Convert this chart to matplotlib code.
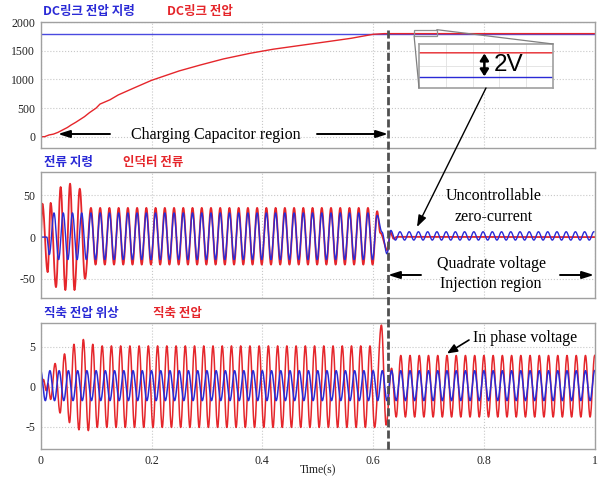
import numpy as np
import matplotlib
matplotlib.use('Agg')
import matplotlib.pyplot as plt
from matplotlib.patches import Rectangle, ConnectionPatch, FancyArrowPatch
from matplotlib.lines import Line2D

# ---------------- data ----------------
FREQ = 60.0
T_SWITCH = 0.626

# panel 1 : DC-link voltage
dc_ref_t = [0.0, 1.0]
dc_ref_v = [1800.0, 1800.0]
dc_t = [0.0, 0.007, 0.015, 0.023, 0.031, 0.040, 0.048, 0.055, 0.063, 0.071, 0.079,
        0.088, 0.1, 0.107, 0.125, 0.14, 0.167, 0.2, 0.25, 0.288, 0.33, 0.378,
        0.42, 0.468, 0.52, 0.56, 0.6, 0.62, 1.0]
dc_v = [0.0, 0.0, 30, 45, 75, 120, 160, 205, 250, 300, 350,
        420, 500, 570, 645, 730, 846, 985, 1150, 1253, 1360, 1458,
        1530, 1595, 1665, 1720, 1790, 1802, 1802]

# panel 2 : current reference (blue) / inductor current (red)
iref_head_t = [0.0, 0.011, 0.0155]
iref_head_v = [0.0, 0.0, -21.0]
iref_first_peak, iref_hi, iref_lo = 0.024, 29.0, -27.0
iref_tail_t = [0.6073, 0.616, 0.625, 0.632, 0.6403]
iref_tail_v = [26.0, 6.0, -20.0, 8.0, -3.6]
iref_post_first_peak, iref_post_hi, iref_post_lo = 0.6485, 6.4, -3.6

iL_head_t = [0.0, 0.003, 0.0126, 0.018, 0.0276, 0.036, 0.0445, 0.053, 0.061, 0.0705, 0.080]
iL_head_v = [0.0, 40.0, -42.0, 41.0, -60.0, 60.0, -63.5, 64.0, -63.5, 58.0, -50.0]
iL_first_peak, iL_hi, iL_lo = 0.0907, 35.0, -33.0
iL_tail_t = [0.6073, 0.613, 0.626, 0.631, 0.637, 0.643, 1.0]
iL_tail_v = [31.0, 5.0, -16.0, 6.0, -2.0, 0.3, 0.0]

# panel 3 : d-axis voltage phase (blue) / d-axis voltage (red)
vph_first_peak, vph_hi, vph_lo = 0.0, 2.0, -1.75

vd_head_t = [0.0, 0.005, 0.010, 0.013, 0.018, 0.026, 0.035, 0.043, 0.052, 0.060,
             0.069, 0.077, 0.086, 0.094, 0.102]
vd_head_v = [-0.2, 0.9, -0.5, 0.4, -1.6, 2.9, -3.3, 4.1, -4.5, 5.3,
             -5.4, 5.9, -5.5, 5.3, -5.1]
vd_first_peak, vd_hi, vd_lo = 0.111, 5.1, -5.1
vd_tail_t = [0.615, 0.6235, 0.6333, 0.6417]
vd_tail_v = [7.7, -4.8, 2.3, -3.8]
vd_post_first_peak, vd_post_hi, vd_post_lo = 0.65, 3.9, -3.8

# ---------------- helpers ----------------
def grid_extrema(first_peak, hi, lo, t_end):
    half = 0.5 / FREQ
    ts, vs = [], []
    k = 0
    while first_peak + k * half <= t_end + 1e-9:
        ts.append(first_peak + k * half)
        vs.append(hi if k % 2 == 0 else lo)
        k += 1
    return ts, vs


def halfcos(te, ve, n=16):
    tt, vv = [], []
    for i in range(len(te) - 1):
        s = np.linspace(0, 1, n, endpoint=False)
        tt.append(te[i] + s * (te[i + 1] - te[i]))
        vv.append((ve[i] + ve[i + 1]) / 2 + (ve[i] - ve[i + 1]) / 2 * np.cos(np.pi * s))
    tt.append([te[-1]])
    vv.append([ve[-1]])
    return np.concatenate(tt), np.concatenate(vv)


def assemble(*parts):
    t, v = [], []
    for pt, pv in parts:
        t += list(pt)
        v += list(pv)
    return halfcos(t, v)

iref = assemble((iref_head_t, iref_head_v),
                grid_extrema(iref_first_peak, iref_hi, iref_lo, 0.600),
                (iref_tail_t, iref_tail_v),
                grid_extrema(iref_post_first_peak, iref_post_hi, iref_post_lo, 1.0))
iL = assemble((iL_head_t, iL_head_v),
              grid_extrema(iL_first_peak, iL_hi, iL_lo, 0.600),
              (iL_tail_t, iL_tail_v))
vph = assemble(grid_extrema(vph_first_peak, vph_hi, vph_lo, 1.0))
vd = assemble((vd_head_t, vd_head_v),
              grid_extrema(vd_first_peak, vd_hi, vd_lo, 0.605),
              (vd_tail_t, vd_tail_v),
              grid_extrema(vd_post_first_peak, vd_post_hi, vd_post_lo, 1.0))

# ---------------- figure ----------------
W, H = 601, 479
plt.rcParams['font.family'] = ['Liberation Serif', 'DejaVu Serif']
plt.rcParams['axes.unicode_minus'] = False
fig = plt.figure(figsize=(W / 100, H / 100), dpi=100)

BLUE = '#2a2ad6'
RED = '#e5262b'
KFONT = ['Noto Sans CJK KR', 'DejaVu Sans']

def fx(px):
    return px / W

def fy(py):
    return 1 - py / H

left, right = 40.7, 594.7

def make_ax(top, bottom):
    ax = fig.add_axes([fx(left), fy(bottom), fx(right - left), (bottom - top) / H])
    for s in ax.spines.values():
        s.set_color('#a0a0a0')
        s.set_linewidth(1.0)
    ax.grid(True, color='#c8c8c8', linestyle=':', linewidth=0.8)
    ax.set_axisbelow(True)
    ax.tick_params(length=0, pad=4, labelsize=8.5, colors='#222222')
    ax.set_xlim(0, 1)
    ax.set_xticks([0, 0.2, 0.4, 0.6, 0.8, 1.0])
    return ax

ax1 = make_ax(22.3, 148.3)
ax2 = make_ax(172.0, 298.0)
ax3 = make_ax(322.7, 449.0)

# panel 1
ax1.plot(dc_ref_t, dc_ref_v, color='#4a4ae0', lw=1.0)
ax1.plot(dc_t, dc_v, color=RED, lw=1.0)
ax1.set_ylim(-203, 2000)
ax1.set_yticks([0, 500, 1000, 1500, 2000])
ax1.set_xticklabels([])

# panel 2
ax2.plot(iL[0], iL[1], color=RED, lw=1.3)
ax2.plot(iref[0], iref[1], color=BLUE, lw=1.0)
ax2.set_ylim(-73, 78)
ax2.set_yticks([-50, 0, 50])
ax2.set_xticklabels([])

# panel 3
ax3.plot(vd[0], vd[1], color=RED, lw=1.1)
ax3.plot(vph[0], vph[1], color=BLUE, lw=1.1)
ax3.set_ylim(-7.8, 8)
ax3.set_yticks([-5, 0, 5])
ax3.set_xticklabels(['0', '0.2', '0.4', '0.6', '0.8', '1'])
fig.text(fx(317.7), fy(470.5), 'Time(s)', fontsize=8.5, color='#222222',
         ha='center', va='center')

# Korean panel titles
def ktext(x, y, s, c):
    fig.text(fx(x), fy(y), s, color=c, fontsize=9, family=KFONT, weight='bold',
             va='center', ha='left')

ktext(43, 11, 'DC링크 전압 지령', BLUE)
ktext(167, 11, 'DC링크 전압', RED)
ktext(44, 162.5, '전류 지령', BLUE)
ktext(123, 162.5, '인덕터 전류', RED)
ktext(44, 313, '직축 전압 위상', BLUE)
ktext(153, 313, '직축 전압', RED)

# zoom rectangle and inset
rx0, rx1, ry0, ry1 = 0.674, 0.715, 1760, 1871
ax1.add_patch(Rectangle((rx0, ry0), rx1 - rx0, ry1 - ry0, fill=False,
                        edgecolor='#909090', lw=0.9, zorder=5))
axin = fig.add_axes([fx(419), fy(88), fx(553 - 419), 44 / H])
axin.plot(dc_ref_t, dc_ref_v, color=BLUE, lw=1.0)
axin.plot(dc_t, dc_v, color=RED, lw=1.0)
axin.set_xlim(rx0, rx1)
axin.set_ylim(1799.09, 1802.73)
axin.set_xticks(np.linspace(rx0, rx1, 6)[1:-1])
axin.set_yticks([1800.91])
axin.set_xticklabels([])
axin.set_yticklabels([])
axin.tick_params(length=0)
axin.grid(True, color='#e0e0e0', linestyle='-', linewidth=0.6)
for s in axin.spines.values():
    s.set_color('#a0a0a0')
    s.set_linewidth(1.2)
axin.annotate('', xy=(0.694, 1800.05), xytext=(0.694, 1801.95),
              arrowprops=dict(arrowstyle='<|-|>,head_length=0.4,head_width=0.25',
                              color='black', lw=1.8, shrinkA=0, shrinkB=0))
axin.text(0.697, 1801.0, '2V', fontsize=17.5, family=['Liberation Sans', 'DejaVu Sans'],
          va='center', ha='left')
for (xa, ya), (xb, yb) in [((rx1, ry1), (1, 1)), ((rx0, ry0), (0, 0))]:
    con = ConnectionPatch(xyA=(xa, ya), coordsA=ax1.transData,
                          xyB=(xb, yb), coordsB=axin.transAxes,
                          color='#808080', lw=0.9)
    fig.add_artist(con)

# dashed vertical line at switching instant
xs = fx(left + T_SWITCH * (right - left))
fig.add_artist(Line2D([xs, xs], [fy(30), fy(451)], color='#505050', lw=2.0,
                      linestyle=(0, (2.9, 1.1)), zorder=10))

# annotations
SERIF = ['Liberation Serif', 'DejaVu Serif']
ah = dict(arrowstyle='-|>,head_length=0.7,head_width=0.22', color='black', lw=1.4,
          shrinkA=0, shrinkB=0)

def farrow(p0, p1, **kw):
    fig.add_artist(FancyArrowPatch((fx(p0[0]), fy(p0[1])), (fx(p1[0]), fy(p1[1])),
                                   transform=fig.transFigure, mutation_scale=10,
                                   zorder=12, **kw))

fig.text(fx(216), fy(135), 'Charging Capacitor region', fontsize=11.5, family=SERIF,
         ha='center', va='center')
farrow((110, 134), (58, 134), **ah)
farrow((317, 134), (388, 134), **ah)

farrow((486, 88), (417, 227), arrowstyle='-|>,head_length=0.7,head_width=0.25',
       color='black', lw=1.0, shrinkA=0, shrinkB=0)
fig.text(fx(494), fy(206.5), 'Uncontrollable\nzero-current', fontsize=11.5, family=SERIF,
         ha='center', va='center', linespacing=1.35)
fig.text(fx(491), fy(274), 'Quadrate voltage\nInjection region', fontsize=11.5, family=SERIF,
         ha='center', va='center', linespacing=1.35)
farrow((421, 275), (388, 275), **ah)
farrow((560, 275), (594, 275), **ah)

fig.text(fx(525), fy(338), 'In phase voltage', fontsize=11.5, family=SERIF,
         ha='center', va='center')
farrow((469, 340), (447, 353.5), arrowstyle='-|>,head_length=0.6,head_width=0.25',
       color='black', lw=1.2, shrinkA=0, shrinkB=0)

fig.savefig('out.png', dpi=100)
